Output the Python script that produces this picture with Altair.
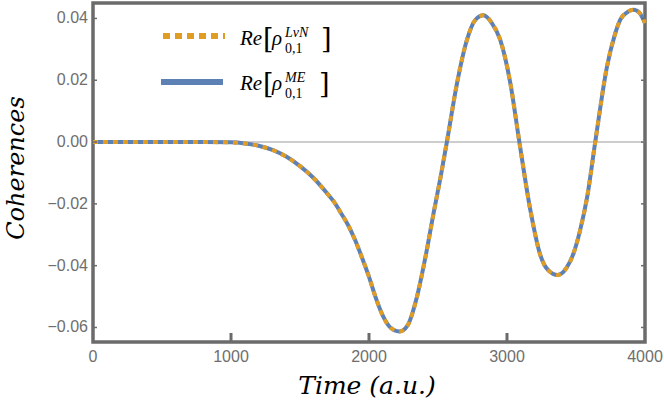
import altair as alt
import pandas as pd

# ---- data ----
time_au = [0, 200, 400, 600, 800, 1000, 1100, 1200, 1300, 1400, 1500, 1600, 1700, 1744,
           1800, 1850, 1900, 1950, 2000, 2050, 2100, 2150, 2220, 2280, 2348, 2410,
           2468, 2520, 2565, 2638, 2710, 2770, 2830, 2890, 2951, 3024, 3089, 3170, 3241,
           3270, 3300, 3367, 3430, 3483, 3530, 3580, 3640, 3725, 3780, 3821, 3870, 3917,
           3960, 4000]
coherence = [0.0, 0.0, 0.0, 0.0, 0.0, -0.0001, -0.00045, -0.0012, -0.00255, -0.0047,
             -0.0078, -0.0117, -0.0168, -0.0192, -0.0232, -0.0270, -0.0318, -0.0375,
             -0.0436, -0.0505, -0.0562, -0.0598, -0.0613, -0.0593, -0.0500, -0.0370,
             -0.0230, -0.0110, 0.0002, 0.0191, 0.0331, 0.0395, 0.0410, 0.0385, 0.0331,
             0.0191, 0.0002, -0.0222, -0.0365, -0.0397, -0.0415, -0.0430, -0.0408,
             -0.0359, -0.0285, -0.0180, 0.0002, 0.0245, 0.0345, 0.0396, 0.0420, 0.0428,
             0.0418, 0.0385]
x_ticks = [0, 1000, 2000, 3000, 4000]
y_ticks = [-0.06, -0.04, -0.02, 0.0, 0.02, 0.04]
x_inner_ticks = [1000, 2000, 3000]
x_title = "Time (a.u.)"
y_title = "Coherences"
series_sup = ["LvN", "ME"]

W, H = 552, 339
FRAME = "#6b6b6b"
LABEL = "#6e6e6e"
BLUE = "#5E81B5"
ORANGE = "#E19C24"

xs = alt.Scale(domain=[0, 4000], nice=False, zero=False)
ys = alt.Scale(domain=[-0.0647, 0.045], nice=False, zero=False)

df = pd.DataFrame({"t": time_au, "v": coherence})
one = pd.DataFrame({"a": [0]})

zero = alt.Chart(pd.DataFrame({"v": [0.0]})).mark_rule(
    color="#bdbdbd", strokeWidth=1.5
).encode(y=alt.Y("v:Q", scale=ys, axis=None))

blue = alt.Chart(df).mark_line(
    color=BLUE, strokeWidth=4, interpolate="monotone"
).encode(
    x=alt.X("t:Q", scale=xs, axis=None),
    y=alt.Y("v:Q", scale=ys, axis=None),
)

orange = alt.Chart(df).mark_line(
    color=ORANGE, strokeWidth=4, strokeDash=[5, 5], interpolate="monotone"
).encode(
    x=alt.X("t:Q", scale=xs, axis=None),
    y=alt.Y("v:Q", scale=ys, axis=None),
)

bottom_ticks = alt.Chart(pd.DataFrame({"t": x_inner_ticks})).mark_rule(
    color=FRAME, strokeWidth=3
).encode(x=alt.X("t:Q", scale=xs, axis=None), y=alt.value(H), y2=alt.value(H - 9))

left_ticks = alt.Chart(pd.DataFrame({"v": y_ticks})).mark_rule(
    color=FRAME, strokeWidth=1.5
).encode(y=alt.Y("v:Q", scale=ys, axis=None), x=alt.value(0), x2=alt.value(4))

right_ticks = alt.Chart(pd.DataFrame({"v": y_ticks})).mark_rule(
    color=FRAME, strokeWidth=1.5
).encode(y=alt.Y("v:Q", scale=ys, axis=None), x=alt.value(W - 4), x2=alt.value(W))

# tick labels (through the scales)
x_labels = alt.Chart(pd.DataFrame({"t": x_ticks})).mark_text(
    font="Liberation Sans", fontSize=16, color=LABEL, align="center", baseline="top"
).encode(
    x=alt.X("t:Q", scale=xs, axis=None), y=alt.value(H + 7),
    text=alt.Text("t:Q", format="d"),
)
y_labels = alt.Chart(pd.DataFrame({"v": y_ticks})).mark_text(
    font="Liberation Sans", fontSize=16, color=LABEL, align="right", baseline="middle"
).encode(
    y=alt.Y("v:Q", scale=ys, axis=None), x=alt.value(-5),
    text=alt.Text("v:Q", format=".2f"),
)

# axis titles
x_title_mark = alt.Chart(one).mark_text(
    text=x_title, font="DejaVu Serif", fontStyle="italic", fontSize=25,
    color="black", align="center", baseline="alphabetic"
).encode(x=alt.value(W / 2 - 2), y=alt.value(391))
y_title_mark = alt.Chart(one).mark_text(
    text=y_title, font="DejaVu Serif", fontStyle="italic", fontSize=24,
    color="black", align="center", baseline="alphabetic", angle=270
).encode(x=alt.value(-69), y=alt.value(165))


def txt(s, x, y, size, italic=True, font="Liberation Serif"):
    kw = dict(text=s, align="left", baseline="alphabetic", font=font,
              fontSize=size, color="black")
    if italic:
        kw["fontStyle"] = "italic"
    return alt.Chart(one).mark_text(**kw).encode(x=alt.value(x), y=alt.value(y))


def legend_row(line_y, base, sup, bracket_close_x, dashed, color, x0):
    if dashed:
        ln = alt.Chart(one).mark_rule(color=color, strokeWidth=6, strokeDash=[7, 5]).encode(
            x=alt.value(x0), x2=alt.value(x0 + 62), y=alt.value(line_y))
    else:
        ln = alt.Chart(one).mark_rule(color=color, strokeWidth=6).encode(
            x=alt.value(x0), x2=alt.value(x0 + 62), y=alt.value(line_y))
    return [
        ln,
        txt("Re", 147, base, 21),
        txt("[", 170, base + 3, 27, italic=False, font="DejaVu Serif"),
        txt("ρ", 179, base, 21),
        txt(sup, 192, base - 8, 14),
        txt("0,1", 192, base + 8, 14, italic=False),
        txt("]", bracket_close_x, base + 3, 27, italic=False, font="DejaVu Serif"),
    ]


legend_parts = (legend_row(33, 42, series_sup[0], 228, True, ORANGE, 70)
                + legend_row(79, 87, series_sup[1], 226, False, BLUE, 68))

chart = alt.layer(
    zero, blue, orange, bottom_ticks, left_ticks, right_ticks,
    x_labels, y_labels, x_title_mark, y_title_mark, *legend_parts
).properties(
    width=W, height=H,
    autosize=alt.AutoSizeParams(type="none"),
    padding={"left": 93, "top": 3, "right": 19, "bottom": 65},
    background="white",
).configure_view(
    stroke=FRAME, strokeWidth=3.5
)

chart.save("out.html", embed_options={"renderer": "svg", "actions": False})
